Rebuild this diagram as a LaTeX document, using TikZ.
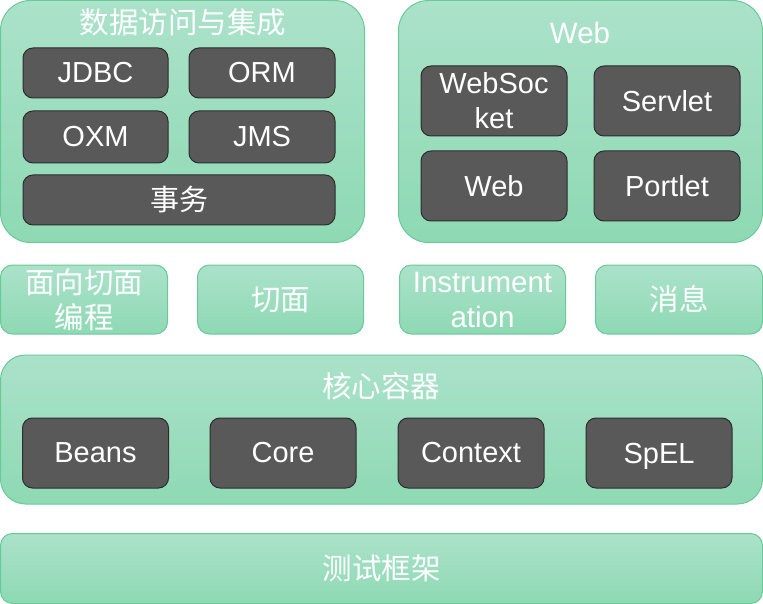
\documentclass[tikz,border=0pt]{standalone}
\usepackage{fontspec}
\setmainfont{Liberation Sans}
\newfontfamily\cjk{Noto Sans CJK SC}
\definecolor{grtop}{RGB}{171,226,202}
\definecolor{grbot}{RGB}{142,217,180}
\definecolor{grline}{RGB}{104,202,153}
\definecolor{darkfill}{RGB}{89,89,89}
\definecolor{darkline}{RGB}{45,45,45}
\tikzset{
	grouppanel/.style={draw=grline,line width=1pt,top color=grtop,bottom color=grbot,rounded corners=#1,inner sep=0pt},
	darkbox/.style={draw=darkline,line width=1pt,fill=darkfill,rounded corners=10pt,inner sep=0pt,text=white,align=center,font=\fontsize{29}{35}\selectfont},
	paneltitle/.style={text=white,font=\fontsize{29.5}{35}\selectfont}
}
\begin{document}
\begin{tikzpicture}[x=1pt,y=-1pt]
				\useasboundingbox (0,0) rectangle (763,604);
				%data access
				\node[grouppanel=30pt,minimum width=364pt,minimum height=242pt] (data) at (182.5,121.5) {};
				\node[paneltitle] (datatitle) at (183,22) {\cjk 数据访问与集成};
				\node[darkbox,minimum width=145pt,minimum height=50pt] (jdbc) at (95.5,73) {JDBC};
				\node[darkbox,minimum width=146pt,minimum height=50pt] (orm) at (262,73) {ORM};
				\node[darkbox,minimum width=145pt,minimum height=52pt] (oxm) at (95.5,137) {OXM};
				\node[darkbox,minimum width=146pt,minimum height=52pt] (jms) at (262,137) {JMS};
				\node[darkbox,minimum width=312pt,minimum height=50pt] (tx) at (179,200) {\cjk 事务};
				%web
				\node[grouppanel=30pt,minimum width=364pt,minimum height=242pt] (web) at (580.5,121.5) {};
				\node[paneltitle] (webtitle) at (580,33) {Web};
				\node[darkbox,minimum width=146pt,minimum height=70pt] (websocket) at (494,101) {WebSoc\\ket};
				\node[darkbox,minimum width=146pt,minimum height=70pt] (servlet) at (667,101) {Servlet};
				\node[darkbox,minimum width=146pt,minimum height=70pt] (webmod) at (494,186) {Web};
				\node[darkbox,minimum width=146pt,minimum height=70pt] (portlet) at (667,186) {Portlet};
				%middle row
				\node[grouppanel=12pt,minimum width=167pt,minimum height=69pt,paneltitle,align=center] (aop) at (84,299.5) {\cjk 面向切面\\\cjk 编程};
				\node[grouppanel=12pt,minimum width=166pt,minimum height=69pt,paneltitle] (aspects) at (280.5,299.5) {\cjk 切面};
				\node[grouppanel=12pt,minimum width=166pt,minimum height=69pt,paneltitle,align=center] (instr) at (482.5,299.5) {Instrument\\ation};
				\node[grouppanel=12pt,minimum width=167pt,minimum height=69pt,paneltitle] (msg) at (679,299.5) {\cjk 消息};
				%core container
				\node[grouppanel=25pt,minimum width=762pt,minimum height=149pt] (core) at (381.5,429.5) {};
				\node[paneltitle] (coretitle) at (381,386) {\cjk 核心容器};
				\node[darkbox,minimum width=146pt,minimum height=70pt] (beans) at (95.5,453) {Beans};
				\node[darkbox,minimum width=146pt,minimum height=70pt] (coremod) at (283,453) {Core};
				\node[darkbox,minimum width=146pt,minimum height=70pt] (context) at (471,453) {Context};
				\node[darkbox,minimum width=146pt,minimum height=70pt,text depth=0pt] (spel) at (659,453) {SpEL};
				%test
				\node[grouppanel=12pt,minimum width=762pt,minimum height=70pt,paneltitle] (test) at (381.5,568.5) {\cjk 测试框架};
				\end{tikzpicture}
\end{document}
